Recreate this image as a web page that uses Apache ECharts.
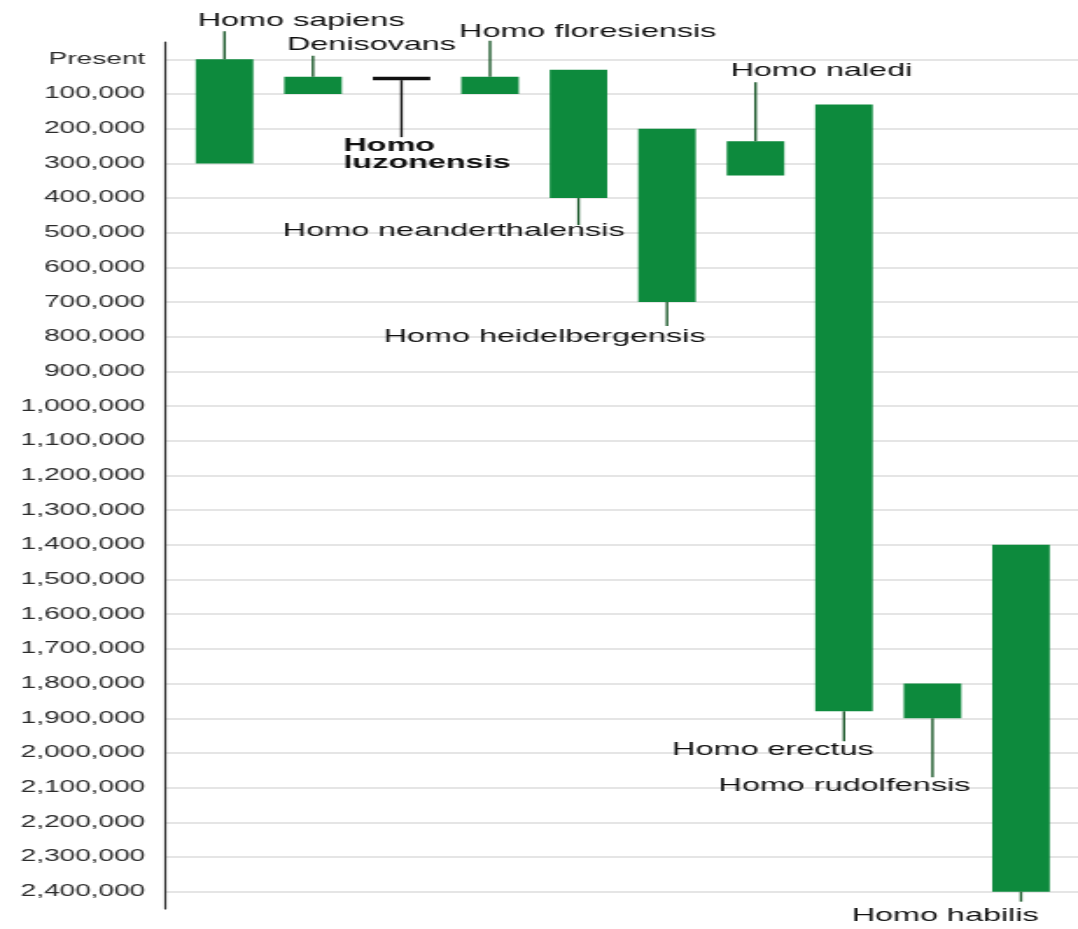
<!DOCTYPE html>
<html>
<head>
<meta charset="utf-8">
<title>Homo species timeline</title>
<script src="https://cdn.jsdelivr.net/npm/echarts@6/dist/echarts.min.js"></script>
<style>
    html, body { margin: 0; padding: 0; background: #fff; }
    /* the reference is stretched sideways, so draw narrow and widen it */
    #chart { width: 616px; height: 929px; transform: scaleX(1.75); transform-origin: 0 0; }
</style>
</head>
<body>
<div id="chart"></div>
<script>
var species = ['Homo sapiens', 'Denisovans', 'Homo luzonensis', 'Homo floresiensis', 'Homo neanderthalensis',
    'Homo heidelbergensis', 'Homo naledi', 'Homo erectus', 'Homo rudolfensis', 'Homo habilis'];
var speciesLabels = ['Homo sapiens', 'Denisovans', 'Homo\nluzonensis', 'Homo floresiensis', 'Homo neanderthalensis',
    'Homo heidelbergensis', 'Homo naledi', 'Homo erectus', 'Homo rudolfensis', 'Homo habilis'];
// years ago: most recent and oldest
var latestYears = [0, 50000, 50000, 50000, 30000, 200000, 236000, 130000, 1800000, 1400000];
var earliestYears = [300000, 100000, 60000, 100000, 400000, 700000, 335000, 1880000, 1900000, 2400000];

var tickValues = [0, 100000, 200000, 300000, 400000, 500000, 600000, 700000, 800000, 900000,
    1000000, 1100000, 1200000, 1300000, 1400000, 1500000, 1600000, 1700000, 1800000, 1900000,
    2000000, 2100000, 2200000, 2300000, 2400000];
var tickLabels = ['Present', '100,000', '200,000', '300,000', '400,000', '500,000', '600,000', '700,000',
    '800,000', '900,000', '1,000,000', '1,100,000', '1,200,000', '1,300,000', '1,400,000', '1,500,000',
    '1,600,000', '1,700,000', '1,800,000', '1,900,000', '2,000,000', '2,100,000', '2,200,000',
    '2,300,000', '2,400,000'];

// label placement: which end the leader starts at, leader length, text offset from bar centre
var labelLayout = [
    {side: 'top', lead: 28, dx: -15.4, dy: -10},
    {side: 'top', lead: 21, dx: -14.9, dy: -11},
    {side: 'bottom', lead: 57, dx: -33.2, dy: 17},
    {side: 'top', lead: 36, dx: -17.7, dy: -9},
    {side: 'bottom', lead: 27, dx: -169, dy: 6},
    {side: 'bottom', lead: 24, dx: -162, dy: 10.5},
    {side: 'top', lead: 59, dx: -14.3, dy: -11},
    {side: 'bottom', lead: 30, dx: -98.2, dy: 9},
    {side: 'bottom', lead: 59, dx: -122.3, dy: 8.7},
    {side: 'bottom', lead: 10, dx: -96.8, dy: 14}
];

var seriesData = [];
for (var i = 0; i < species.length; i++) {
    seriesData.push({name: species[i], value: [i, latestYears[i], earliestYears[i]]});
}

function renderSpan(params, api) {
    var idx = params.dataIndex;
    var top = api.coord([api.value(0), api.value(1)]);
    var bottom = api.coord([api.value(0), api.value(2)]);
    var w = api.size([1, 0])[0] * 0.65;
    var lay = labelLayout[idx];
    var uncertain = species[idx] === 'Homo luzonensis';
    var fill = uncertain ? '#111' : '#0d8a3d';
    var stroke = uncertain ? '#111' : '#1d5a2c';
    var startY = lay.side === 'top' ? top[1] : bottom[1];
    var endY = lay.side === 'top' ? startY - lay.lead : startY + lay.lead;
    return {
        type: 'group',
        children: [
            {
                type: 'rect',
                shape: {x: top[0] - w / 2, y: top[1], width: w, height: bottom[1] - top[1]},
                style: {fill: fill}
            },
            {
                type: 'line',
                shape: {x1: top[0], y1: startY, x2: top[0], y2: endY},
                style: {stroke: stroke, lineWidth: 1.4}
            },
            {
                type: 'text',
                x: top[0] + lay.dx,
                y: endY + lay.dy,
                style: {
                    text: speciesLabels[idx],
                    fill: '#111',
                    fontFamily: 'Liberation Sans, Arial, sans-serif',
                    fontSize: 18.5,
                    fontWeight: uncertain ? 'bold' : 'normal',
                    lineHeight: 17,
                    align: 'left',
                    verticalAlign: 'middle'
                }
            }
        ]
    };
}

var chart = echarts.init(document.getElementById('chart'));
chart.setOption({
    animation: false,
    backgroundColor: '#fff',
    grid: {left: 94, right: 0, top: 42, bottom: 20},
    xAxis: {
        type: 'value',
        min: -0.678,
        max: 9.644,
        show: false
    },
    yAxis: {
        type: 'value',
        inverse: true,
        min: -50000,
        max: 2450000,
        axisLine: {show: true, onZero: false, lineStyle: {color: '#333', width: 1.2}},
        axisTick: {show: false, customValues: tickValues},
        axisLabel: {
            customValues: tickValues,
            margin: 11,
            color: '#2b2b2b',
            fontFamily: 'Liberation Sans, Arial, sans-serif',
            fontSize: 16,
            formatter: function (v) {
                return tickLabels[tickValues.indexOf(v)];
            }
        },
        splitLine: {show: true, lineStyle: {color: '#dcdcdc', width: 1.5}}
    },
    series: [{
        type: 'custom',
        clip: false,
        renderItem: renderSpan,
        encode: {x: 0, y: [1, 2]},
        data: seriesData
    }]
});
</script>
</body>
</html>
